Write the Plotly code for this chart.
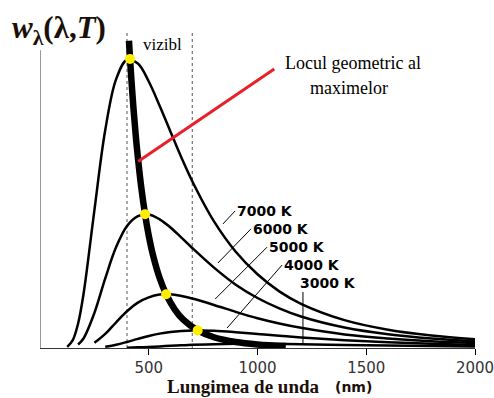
import plotly.graph_objects as go

# ---- data ----
wavelength_nm = [125, 150, 175, 200, 250, 300, 350, 400, 450, 500, 550, 600, 650,
                 700, 800, 900, 1000, 1100, 1200, 1400, 1600, 1800, 2000]
w_7000 = [0.4, 2.6, 8.4, 18.6, 47.6, 75.4, 93.0, 99.7, 98.4, 92.2, 83.8, 74.8, 65.9,
          57.7, 43.8, 33.3, 25.5, 19.6, 15.3, 9.65, 6.34, 4.32, 3.04]
w_6000 = [None, None, 1.2, 3.3, 12.1, 24.1, 34.9, 42.2, 45.6, 46.2, 44.5, 41.7, 38.2,
          34.6, 27.8, 21.9, 17.3, 13.7, 10.9, 7.09, 4.75, 3.29, 2.34]
w_5000 = [None, None, None, None, 1.8, 4.9, 8.9, 12.7, 15.7, 17.5, 18.5, 18.6, 18.0,
          17.1, 14.9, 12.5, 10.3, 8.5, 7.0, 4.7, 3.3, 2.3, 1.7]
w_4000 = [None, None, None, None, None, 0.44, 1.13, 2.10, 3.17, 4.16, 4.97, 5.56, 5.92,
          6.08, 5.95, 5.49, 4.88, 4.24, 3.66, 2.67, 1.95, 1.44, 1.07]
w_3000 = [None, None, None, None, None, None, None, 0.10, 0.22, 0.38, 0.56, 0.75, 0.93,
          1.09, 1.32, 1.43, 1.44, 1.39, 1.30, 1.08, 0.87, 0.69, 0.54]

temperature_labels = ["7000 K", "6000 K", "5000 K", "4000 K", "3000 K"]

peak_nm = [414, 483, 580, 725]
peak_w = [100, 46.3, 18.6, 6.09]

locus_nm = [409, 414, 420, 430, 440, 450, 465, 483, 500, 520, 550, 580, 620, 660,
            725, 800, 900, 1000, 1130]
locus_w = [106.3, 100, 93.1, 82.7, 73.7, 65.9, 55.9, 46.3, 38.9, 32.0, 24.2, 18.6,
           13.3, 9.7, 6.07, 3.71, 2.06, 1.22, 0.66]

visible_nm = [400, 700]
x_ticks = [500, 1000, 1500, 2000]

pointer_nm = [451, 1077]
pointer_w = [64.5, 96.5]

# leader lines: start (nm, w) -> end (nm, w) ; label anchored near the end
leader_start_nm = [841, 818, 805, 860, 1209]
leader_start_w = [42.9, 29.4, 16.9, 6.9, 1.4]
leader_end_nm = [897, 970, 1044, 1113, 1209]
leader_end_w = [47.4, 41.2, 34.9, 28.7, 19.4]
label_nm = [895, 968, 1042, 1111, 1184]
label_w = [47.4, 41.2, 34.9, 28.7, 22.5]

# ---- figure ----
W, H = 494, 398
ML, MR, MT, MB = 40, 19, 30, 50
Y_MAX = 110


def px_x(px):
    return (px - ML) / (W - ML - MR)


def px_y(py):
    return (H - MB - py) / (H - MT - MB)


fig = go.Figure()

for series in [w_7000, w_6000, w_5000, w_4000, w_3000]:
    fig.add_trace(go.Scatter(x=wavelength_nm, y=series, mode="lines",
                             line=dict(color="black", width=2.5, shape="spline"),
                             showlegend=False, hoverinfo="skip"))

for i in range(len(temperature_labels)):
    fig.add_trace(go.Scatter(x=[leader_start_nm[i], leader_end_nm[i]],
                             y=[leader_start_w[i], leader_end_w[i]], mode="lines",
                             line=dict(color="black", width=1), showlegend=False,
                             hoverinfo="skip"))
    fig.add_annotation(x=label_nm[i], y=label_w[i], xref="x", yref="y",
                       text="<b>" + temperature_labels[i] + "</b>", showarrow=False,
                       xanchor="left", yanchor="middle",
                       font=dict(family="DejaVu Sans", size=14, color="black"))

fig.add_trace(go.Scatter(x=locus_nm, y=locus_w, mode="lines",
                         line=dict(color="black", width=6.5, shape="spline"),
                         showlegend=False, hoverinfo="skip"))

fig.add_trace(go.Scatter(x=pointer_nm, y=pointer_w, mode="lines",
                         line=dict(color="#e8202a", width=3),
                         showlegend=False, hoverinfo="skip"))

fig.add_trace(go.Scatter(x=peak_nm, y=peak_w, mode="markers",
                         marker=dict(color="#ffee00", size=10, line=dict(width=0)),
                         showlegend=False, hoverinfo="skip"))

for v in visible_nm:
    fig.add_shape(type="line", x0=v, x1=v, y0=0, y1=109, xref="x", yref="y",
                  line=dict(color="#555555", width=1, dash="dot"), layer="below")

# y axis line
fig.add_shape(type="line", x0=0, x1=0, y0=0, y1=103, xref="x", yref="y",
              line=dict(color="#333333", width=1))

serif = "Liberation Serif"
fig.add_annotation(x=px_x(10), y=px_y(30), xref="paper", yref="paper",
                   text="<b><i>w</i><sub>λ</sub>(λ,<i>T</i>)</b>", showarrow=False,
                   xanchor="left", yanchor="middle",
                   font=dict(family=serif, size=31, color="#1a1008"))
fig.add_annotation(x=px_x(141), y=px_y(44), xref="paper", yref="paper",
                   text="vizibl", showarrow=False, xanchor="left", yanchor="middle",
                   font=dict(family=serif, size=17, color="black"))
fig.add_annotation(x=px_x(353), y=px_y(63), xref="paper", yref="paper",
                   text="Locul geometric al", showarrow=False, xanchor="center",
                   yanchor="middle", font=dict(family=serif, size=18, color="black"))
fig.add_annotation(x=px_x(349), y=px_y(88), xref="paper", yref="paper",
                   text="maximelor", showarrow=False, xanchor="center",
                   yanchor="middle", font=dict(family=serif, size=18, color="black"))
fig.add_annotation(x=px_x(322), y=px_y(386), xref="paper", yref="paper",
                   text="<b>Lungimea de unda</b>", showarrow=False, xanchor="right",
                   yanchor="middle", font=dict(family=serif, size=19, color="#1a1008"))
fig.add_annotation(x=px_x(333), y=px_y(387), xref="paper", yref="paper",
                   text="<b>(nm)</b>", showarrow=False, xanchor="left",
                   yanchor="middle", font=dict(family="DejaVu Sans", size=14, color="#1a1008"))

fig.update_layout(
    width=W, height=H, autosize=False,
    margin=dict(l=ML, r=MR, t=MT, b=MB, pad=0),
    paper_bgcolor="white", plot_bgcolor="white",
    xaxis=dict(range=[0, 2000], tickvals=x_ticks, ticks="outside", ticklen=6,
               tickcolor="black", tickwidth=1, showline=True, linecolor="#333333",
               linewidth=1, showgrid=False, zeroline=False,
               ticklabeloverflow="allow", automargin=False,
               tickfont=dict(family="DejaVu Sans", size=15, color="#333333")),
    yaxis=dict(range=[0, Y_MAX], visible=False, showgrid=False, zeroline=False),
)

fig.write_html("out.html")
